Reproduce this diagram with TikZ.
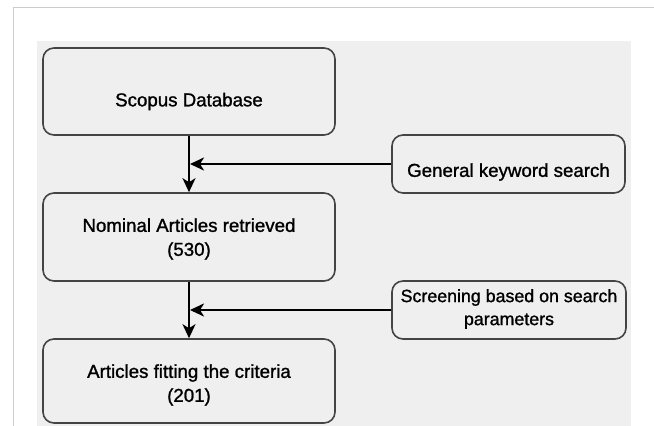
\documentclass[tikz,border=0pt]{standalone}
\usepackage{fontspec}
\setmainfont{Liberation Sans}[BoldFont={Liberation Sans}, BoldFeatures={FakeBold=1.2}]
\usetikzlibrary{arrows.meta}
\definecolor{panelgray}{HTML}{EFEFEF}
\definecolor{framegray}{HTML}{CCCCCC}
\definecolor{boxedge}{HTML}{444444}
\tikzset{
  flowbox/.style={draw=boxedge, line width=1.6pt, fill=panelgray, rounded corners=11pt, inner sep=0pt},
  boxtext/.style={align=center, inner sep=0pt, font=\fontsize{18.7}{24}\selectfont\bfseries, text=black},
  flowarrow/.style={line width=2.4pt, black, -{Stealth[length=14pt,width=13pt,inset=4pt]}},
}
\begin{document}
\begin{tikzpicture}[x=1pt,y=-1pt]
\useasboundingbox (0,0) rectangle (654,426);
\fill[white] (0,0) rectangle (654,426);
\draw[framegray, line width=1pt] (13,426) -- (13,7.5) -- (654,7.5);
\fill[panelgray] (37,41) rectangle (631,426);

\node[flowbox, minimum width=292pt, minimum height=87pt] (scopus) at (189,91.5) {};
\node[flowbox, minimum width=292pt, minimum height=88pt] (nominal) at (189,237) {};
\node[flowbox, minimum width=292pt, minimum height=84pt] (fitting) at (189,381) {};
\node[flowbox, minimum width=233pt, minimum height=58pt] (general) at (508.5,164) {};
\node[flowbox, minimum width=234pt, minimum height=58pt] (screen) at (509,310) {};

\node[boxtext] (scopus-t) at ([yshift=-10pt]scopus.center) {Scopus Database};
\node[boxtext] (nominal-t) at ([yshift=-2pt]nominal.center) {Nominal Articles retrieved\\(530)};
\node[boxtext] (fitting-t) at ([yshift=-4pt]fitting.center) {Articles fitting the criteria\\(201)};
\node[boxtext] (general-t) at ([yshift=-8pt]general.center) {General keyword search};
\node[boxtext, font=\fontsize{17.8}{23}\selectfont\bfseries] (screen-t) at ([yshift=1pt]screen.center) {Screening based on search\\parameters};

\coordinate (j1) at (scopus.south |- general.west);
\coordinate (j2) at (scopus.south |- screen.west);

\draw[flowarrow] (scopus.south) -- (nominal.north);
\draw[flowarrow] (nominal.south) -- (fitting.north);
\draw[flowarrow] (general.west) -- ([xshift=1pt]j1);
\draw[flowarrow] (screen.west) -- ([xshift=1pt]j2);
\end{tikzpicture}
\end{document}
